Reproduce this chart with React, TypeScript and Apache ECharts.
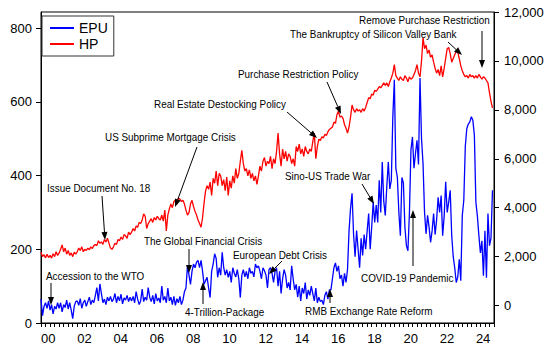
import React, { useEffect, useRef } from "react";
import * as echarts from "echarts";

const START_YEAR = 2000;
const SERIES_NAMES = ["EPU", "HP"];

// Economic policy uncertainty index, monthly 2000M01-2024M12 (left axis)
const EPU_VALUES = [
  65, 20, 45, 55, 40, 60, 35, 50, 25, 45, 38, 55, // 2000
  40, 55, 30, 50, 42, 62, 38, 55, 35, 12, 45, 58, // 2001
  60, 48, 66, 40, 55, 62, 45, 58, 70, 50, 62, 55, // 2002
  75, 96, 60, 106, 80, 55, 65, 50, 70, 60, 72, 58, // 2003
  65, 80, 55, 72, 60, 78, 52, 68, 62, 75, 58, 70, // 2004
  60, 72, 55, 85, 65, 50, 60, 92, 58, 70, 62, 96, // 2005
  70, 58, 75, 52, 80, 60, 68, 55, 100, 62, 72, 55, // 2006
  95, 60, 70, 50, 72, 48, 66, 55, 72, 50, 62, 85, // 2007
  95, 155, 130, 105, 140, 160, 150, 165, 170, 150, 170, 140, // 2008
  105, 115, 124, 95, 69, 140, 160, 188, 175, 124, 150, 130, // 2009
  192, 150, 130, 145, 124, 140, 110, 150, 135, 125, 145, 120, // 2010
  69, 130, 145, 125, 140, 120, 150, 135, 140, 125, 160, 150, // 2011
  155, 140, 120, 150, 142, 130, 95, 145, 150, 135, 110, 140, // 2012
  150, 100, 140, 80, 120, 145, 130, 95, 110, 90, 155, 120, // 2013
  90, 105, 70, 100, 60, 95, 80, 110, 65, 90, 75, 100, // 2014
  80, 60, 95, 55, 70, 58, 62, 50, 75, 85, 65, 90, // 2015
  90, 120, 150, 163, 140, 155, 120, 130, 100, 135, 110, 146, // 2016
  250, 311, 352, 240, 180, 251, 200, 150, 230, 183, 240, 200, // 2017
  250, 297, 200, 260, 328, 273, 320, 273, 387, 300, 437, 330, // 2018
  292, 370, 437, 364, 387, 560, 660, 420, 395, 300, 237, 395, // 2019
  380, 260, 210, 196, 300, 470, 505, 420, 460, 496, 430, 665, // 2020
  500, 433, 300, 242, 292, 260, 219, 250, 297, 240, 280, 341, // 2021
  300, 346, 237, 290, 383, 300, 328, 360, 237, 180, 150, 110, // 2022
  125, 173, 115, 292, 333, 480, 528, 540, 546, 560, 550, 510, // 2023
  328, 290, 237, 190, 223, 128, 250, 123, 297, 210, 230, 360, // 2024
];

// House price, monthly 2000M01-2024M12 (right axis)
const HP_VALUES = [
  2180, 2000, 2080, 1950, 2100, 1960, 2050, 1940, 2120, 2000, 2200, 2050, // 2000
  2150, 2300, 2480, 2200, 2350, 2100, 2250, 2050, 2150, 2000, 2180, 2100, // 2001
  2200, 2350, 2250, 2400, 2200, 2300, 2250, 2350, 2280, 2400, 2330, 2450, // 2002
  2500, 2450, 2650, 2550, 2600, 2500, 2700, 2600, 2750, 2550, 2350, 2300, // 2003
  2400, 2550, 2500, 2700, 2650, 2800, 2700, 2900, 2850, 2750, 3000, 2900, // 2004
  3000, 3150, 3050, 3250, 3200, 3400, 3350, 3500, 3750, 3650, 3150, 3350, // 2005
  3450, 3550, 3400, 3600, 3500, 3650, 3550, 3500, 3700, 3450, 3900, 3050, // 2006
  3700, 3950, 4150, 4000, 4250, 4300, 4150, 4400, 4350, 4250, 4300, 4150, // 2007
  3900, 3700, 3800, 4150, 4300, 4050, 3850, 3700, 3500, 3350, 3200, 3600, // 2008
  4200, 4700, 4900, 4750, 5050, 4500, 5200, 5000, 5500, 4900, 5400, 5300, // 2009
  4900, 5150, 4700, 5250, 4500, 5100, 4800, 5300, 5000, 5600, 5200, 5400, // 2010
  5900, 6350, 5800, 5500, 5600, 5300, 5550, 5200, 5400, 5100, 5300, 4950, // 2011
  5300, 5700, 5500, 5900, 6050, 5700, 5900, 5800, 6100, 5600, 6000, 5800, // 2012
  6300, 7050, 6200, 5700, 6400, 6000, 6300, 5900, 6200, 6100, 5800, 6000, // 2013
  5700, 6500, 6300, 6600, 6200, 6400, 6100, 6500, 6300, 6200, 6400, 6300, // 2014
  6700, 7050, 6000, 6500, 6800, 6750, 6900, 6850, 7000, 6950, 7100, 7200, // 2015
  7250, 7300, 7500, 7450, 7800, 7950, 7700, 7750, 7650, 7400, 7250, 7050, // 2016
  7300, 7700, 8200, 8000, 7900, 8050, 7950, 8000, 7900, 8050, 7950, 8100, // 2017
  8300, 8500, 8450, 8650, 8600, 8800, 8750, 8850, 8950, 8900, 9000, 9100, // 2018
  9000, 9100, 8950, 9150, 9300, 9500, 9850, 9400, 9300, 9200, 9350, 9250, // 2019
  9200, 9400, 9300, 9150, 9350, 9250, 9300, 9450, 9600, 9850, 9500, 9350, // 2020
  10000, 10950, 10500, 10650, 10300, 10450, 10150, 10250, 9950, 9700, 9500, 9650, // 2021
  9400, 9800, 9350, 9700, 10100, 10500, 10550, 10300, 9950, 10100, 10250, 10400, // 2022
  10350, 10100, 9800, 9600, 9450, 9350, 9400, 9300, 9450, 9350, 9400, 9300, // 2023
  9400, 9300, 9450, 9350, 9250, 9350, 9300, 9200, 9100, 8700, 8350, 8080, // 2024
];

const X_LABEL_YEARS = [2000, 2002, 2004, 2006, 2008, 2010, 2012, 2014, 2016, 2018, 2020, 2022, 2024];
const LEFT_TICKS = [0, 200, 400, 600, 800];
const RIGHT_TICKS = [0, 2000, 4000, 6000, 8000, 10000, 12000];

const FONT = "'Liberation Sans', Arial, Helvetica, sans-serif";

function arrow(x1: number, y1: number, x2: number, y2: number) {
  const ang = Math.atan2(y2 - y1, x2 - x1);
  const L = 8;
  const W = 3;
  const c = Math.cos(ang);
  const s = Math.sin(ang);
  const bx = x2 - L * c;
  const by = y2 - L * s;
  return [
    {
      type: "line",
      z: 100,
      shape: { x1, y1, x2: bx, y2: by },
      style: { stroke: "#000", lineWidth: 1 },
    },
    {
      type: "polygon",
      z: 100,
      shape: {
        points: [
          [x2, y2],
          [bx - W * s, by + W * c],
          [bx + W * s, by - W * c],
        ],
      },
      style: { fill: "#000" },
    },
  ];
}

function note(text: string, x: number, y: number) {
  return {
    type: "text",
    z: 100,
    x,
    y,
    scaleX: 0.9,
    style: {
      text,
      fill: "#000",
      fontSize: 11,
      fontFamily: FONT,
      textAlign: "left",
      textVerticalAlign: "middle",
      align: "left",
      verticalAlign: "middle",
    },
  };
}

export default function App() {
  const ref = useRef<HTMLDivElement>(null);

  useEffect(() => {
    if (!ref.current) return;
    const chart = echarts.init(ref.current, null, { renderer: "svg" });
    const toPoints = (vals: number[]) => vals.map((v, i) => [START_YEAR + i / 12, v]);
    const quarterTicks = Array.from({ length: 101 }, (_, i) => START_YEAR + i * 0.25);
    const labelPos = X_LABEL_YEARS.map((y) => y + 0.4);

    const annotations: any[] = [
      note("Remove Purchase Restriction", 359, 20),
      ...arrow(482, 31, 482, 68),
      note("The Bankruptcy of Silicon Valley Bank", 290, 34),
      ...arrow(448, 42, 462, 55),
      note("Purchase Restriction Policy", 238, 74),
      ...arrow(327, 82, 341, 114),
      note("Real Estate Destocking Policy", 154, 104),
      ...arrow(287, 112, 317, 138),
      note("US Subprime Mortgage Crisis", 105, 137),
      ...arrow(197, 147, 175, 207),
      note("Issue Document No. 18", 47, 188),
      ...arrow(102, 196, 105, 240),
      note("Sino-US Trade War", 285, 176),
      ...arrow(362, 184, 374, 204),
      note("The Global Financial Crisis", 144, 241),
      ...arrow(189, 249, 189, 273),
      note("European Debt Crisis", 233, 255),
      ...arrow(282, 261, 269, 274),
      note("Accession to the WTO", 46, 276),
      ...arrow(51, 283, 51, 305),
      note("4-Trillion-Package", 185, 312),
      ...arrow(203, 304, 203, 282),
      note("COVID-19 Pandemic", 361, 278),
      ...arrow(413, 266, 413, 210),
      note("RMB Exchange Rate Reform", 305, 311),
      ...arrow(330, 303, 330, 289),
    ];

    chart.setOption({
      animation: false,
      backgroundColor: "#fff",
      textStyle: { fontFamily: FONT },
      grid: {
        left: 41,
        right: 56,
        top: 12,
        bottom: 28,
        show: true,
        borderColor: "#000",
        borderWidth: 1,
        containLabel: false,
      },
      legend: {
        orient: "vertical",
        left: 42,
        top: 16,
        padding: [5, 6, 5, 8],
        itemWidth: 24,
        itemHeight: 2,
        itemGap: 2,
        icon: "rect",
        borderColor: "#333",
        borderWidth: 1,
        backgroundColor: "#fff",
        textStyle: { fontSize: 14, color: "#000", fontFamily: FONT },
        data: SERIES_NAMES,
      },
      xAxis: {
        type: "value",
        min: START_YEAR,
        max: 2025,
        axisLine: { show: true, lineStyle: { color: "#000", width: 1 } },
        axisTick: {
          show: true,
          length: 4,
          lineStyle: { color: "#000" },
          customValues: quarterTicks,
        },
        axisLabel: {
          customValues: labelPos,
          color: "#000",
          fontSize: 13,
          fontFamily: FONT,
          margin: 9,
          formatter: (v: number) => String(Math.floor(v) % 100).padStart(2, "0"),
        },
        splitLine: { show: false },
      },
      yAxis: [
        {
          type: "value",
          position: "left",
          min: 0,
          max: 844,
          axisLine: { show: true, lineStyle: { color: "#000", width: 1 } },
          axisTick: { show: true, length: 5, lineStyle: { color: "#000" }, customValues: LEFT_TICKS },
          axisLabel: {
            customValues: LEFT_TICKS,
            color: "#000",
            fontSize: 13,
            fontFamily: FONT,
            margin: 9,
          },
          splitLine: { show: false },
        },
        {
          type: "value",
          position: "right",
          min: -713,
          max: 12000,
          axisLine: { show: true, lineStyle: { color: "#000", width: 1 } },
          axisTick: { show: true, length: 5, lineStyle: { color: "#000" }, customValues: RIGHT_TICKS },
          axisLabel: {
            customValues: RIGHT_TICKS,
            color: "#000",
            fontSize: 13,
            fontFamily: FONT,
            margin: 10,
            formatter: (v: number) => v.toLocaleString("en-US"),
          },
          splitLine: { show: false },
        },
      ],
      series: [
        {
          name: SERIES_NAMES[0],
          type: "line",
          yAxisIndex: 0,
          data: toPoints(EPU_VALUES),
          showSymbol: false,
          symbol: "none",
          lineStyle: { color: "#0000ff", width: 1.3 },
          itemStyle: { color: "#0000ff" },
        },
        {
          name: SERIES_NAMES[1],
          type: "line",
          yAxisIndex: 1,
          data: toPoints(HP_VALUES),
          showSymbol: false,
          symbol: "none",
          lineStyle: { color: "#ff0000", width: 1.3 },
          itemStyle: { color: "#ff0000" },
        },
      ],
      graphic: annotations,
    });

    return () => chart.dispose();
  }, []);

  return (
    <div
      ref={ref}
      style={{ position: "fixed", left: 0, top: 0, width: 550, height: 351, background: "#fff" }}
    />
  );
}
